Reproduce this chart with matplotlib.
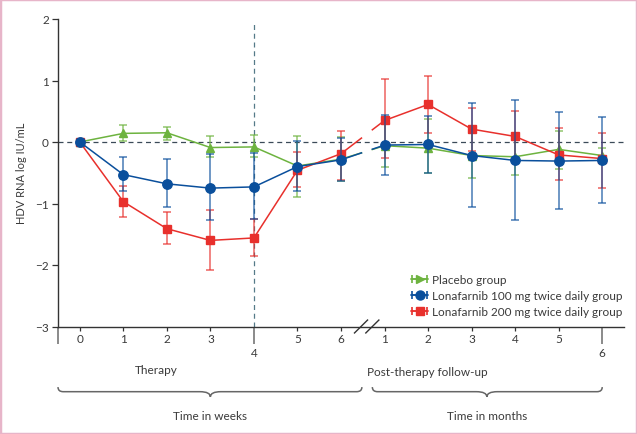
import numpy as np
import matplotlib
matplotlib.use("Agg")
import matplotlib.pyplot as plt
from matplotlib.lines import Line2D
from matplotlib.collections import LineCollection
from matplotlib.container import ErrorbarContainer
from matplotlib.legend_handler import HandlerErrorbar
from matplotlib.path import Path
from matplotlib.patches import PathPatch, Rectangle
import matplotlib.transforms as mtransforms

plt.rcParams["font.family"] = ["Lato", "DejaVu Sans"]

# x axis: weeks 0-6 during therapy, then months 1-6 of follow-up
tick_labels = ["0", "1", "2", "3", "4", "5", "6", "1", "2", "3", "4", "5", "6"]

placebo_mean = [0, 0.14, 0.15, -0.09, -0.08, -0.39, -0.28, -0.06, -0.10, -0.22, -0.24, -0.12, -0.22]
placebo_lo = [0, 0.01, 0.03, -0.25, -0.24, -0.89, -0.63, -0.41, -0.51, -0.59, -0.53, -0.44, -0.34]
placebo_hi = [0, 0.27, 0.24, 0.09, 0.11, 0.09, 0.08, 0.33, 0.37, 0.14, 0.05, 0.18, -0.09]

lona100_mean = [0, -0.53, -0.68, -0.75, -0.73, -0.40, -0.29, -0.05, -0.04, -0.22, -0.30, -0.31, -0.30]
lona100_lo = [0, -0.80, -1.06, -1.27, -1.26, -0.80, -0.64, -0.53, -0.50, -1.05, -1.27, -1.09, -0.99]
lona100_hi = [0, -0.25, -0.28, -0.19, -0.18, 0.01, 0.07, 0.44, 0.42, 0.63, 0.69, 0.49, 0.40]

lona200_mean = [0, -0.97, -1.41, -1.60, -1.56, -0.46, -0.19, 0.35, 0.61, 0.21, 0.09, -0.21, -0.27]
lona200_lo = [0, -1.22, -1.66, -2.08, -1.86, -0.73, -0.61, -0.26, 0.15, -0.15, -0.32, -0.61, -0.74]
lona200_hi = [0, -0.72, -1.14, -1.11, -1.26, -0.16, 0.18, 1.02, 1.07, 0.56, 0.50, 0.22, 0.15]

series_names = ["Placebo group", "Lonafarnib 100 mg twice daily group", "Lonafarnib 200 mg twice daily group"]

GREEN = "#6db33f"
BLUE = "#0a4f9c"
RED = "#e8302c"
TXT = "#3a3a3a"
AX = "#333333"

x = np.arange(len(tick_labels))
gap = (6.47, 6.72)  # break between weeks and months

fig = plt.figure(figsize=(6.37, 4.35), dpi=100)
ax = fig.add_axes([58 / 637, 1 - 327.5 / 435, 566 / 637, 307.5 / 435])


def draw_series(mean, lo, hi, color, marker, ms, z):
    mean = np.array(mean)
    err = np.vstack([mean - np.array(lo), np.array(hi) - mean])
    ax.errorbar(x, mean, yerr=err, fmt="none", ecolor=color, alpha=0.75,
                elinewidth=1.1, capsize=2.6, capthick=1.1, zorder=z)
    g0, g1 = np.interp(gap, x, mean)
    segs = [(np.r_[x[:7], gap[0]], np.r_[mean[:7], g0]),
            (np.r_[gap[1], x[7:]], np.r_[g1, mean[7:]])]
    for sx, sy in segs:
        ax.plot(sx, sy, color=color, lw=1.1, zorder=z + 0.1)
    ax.plot(x, mean, ls="none", marker=marker, ms=ms, color=color,
            mec=color, zorder=z + 0.2)


draw_series(placebo_mean, placebo_lo, placebo_hi, GREEN, "^", 6, 3)
draw_series(lona200_mean, lona200_lo, lona200_hi, RED, "s", 5.5, 4)
draw_series(lona100_mean, lona100_lo, lona100_hi, BLUE, "o", 6.8, 5)

ax.axhline(0, color="#3b4a58", lw=0.9, ls=(0, (4, 3)), zorder=1)
ax.plot([4, 4], [-3, 1.92], color="#557a88", lw=0.9, ls=(0, (4, 3)), zorder=1)

ax.set_xlim(-0.5, 12.5)
ax.set_ylim(-3, 2)
ax.spines["top"].set_visible(False)
ax.spines["right"].set_visible(False)
for s in ("left", "bottom"):
    ax.spines[s].set_color(AX)
    ax.spines[s].set_linewidth(1.0)

ax.set_yticks([-3, -2, -1, 0, 1, 2])
ax.set_yticklabels(["\u22123", "\u22122", "\u22121", "0", "1", "2"])
ax.tick_params(axis="y", length=4, width=0.9, color=AX, labelcolor=TXT,
               labelsize=8.5, pad=2.5)

short = [i for i in x if i not in (4, 12)]
ax.set_xticks(short)
ax.set_xticklabels([tick_labels[i] for i in short])
ax.set_xticks([-0.5, 4, 12], minor=True)
ax.set_xticklabels(["", tick_labels[4], tick_labels[12]], minor=True)
ax.tick_params(axis="x", which="major", length=3, width=0.9, color=AX,
               labelcolor=TXT, labelsize=8.5, pad=2)
ax.tick_params(axis="x", which="minor", length=12, width=1.2, color="#777777",
               labelcolor=TXT, labelsize=8.5, pad=3)

ax.set_ylabel("HDV RNA log IU/mL", color=TXT, fontsize=8, labelpad=6)

# axis break marks
trans = mtransforms.blended_transform_factory(ax.transData, ax.transAxes)
for a, b in [(6.31, 6.61), (6.57, 6.87)]:
    ax.plot([a, b], [-0.021, 0.021], color=AX, lw=1.0, transform=trans,
            clip_on=False, zorder=6)


def brace(x0, x1, xm, y_top=-0.197, y_mid=-0.212, y_tip=-0.229):
    d = 0.12
    verts = [(x0, y_top), (x0, y_mid), (x0 + d, y_mid),
             (xm - 2 * d, y_mid),
             (xm, y_mid), (xm, y_tip),
             (xm, y_mid), (xm + 2 * d, y_mid),
             (x1 - d, y_mid),
             (x1, y_mid), (x1, y_top)]
    codes = [Path.MOVETO, Path.CURVE3, Path.CURVE3, Path.LINETO,
             Path.CURVE3, Path.CURVE3, Path.CURVE3, Path.CURVE3,
             Path.LINETO, Path.CURVE3, Path.CURVE3]
    ax.add_patch(PathPatch(Path(verts, codes), fill=False, ec="#666666",
                           lw=1.1, transform=trans, clip_on=False))


brace(-0.5, 6.48, 3.0)
brace(6.72, 12.0, 9.35)

ax.text(1.75, -0.14, "Therapy", transform=trans, ha="center", va="center",
        fontsize=8.5, color=TXT)
ax.text(7.99, -0.146, "Post-therapy follow-up", transform=trans, ha="center",
        va="center", fontsize=8.5, color=TXT)
ax.text(3.0, -0.29, "Time in weeks", transform=trans, ha="center",
        va="center", fontsize=8.5, color=TXT)
ax.text(9.35, -0.29, "Time in months", transform=trans, ha="center",
        va="center", fontsize=8.5, color=TXT)

# legend handles drawn like horizontal error bars
handles = []
for color, marker, ms in [(GREEN, ">", 5.5), (BLUE, "o", 6.5), (RED, "s", 5.5)]:
    ln = Line2D([], [], color=color, marker=marker, ms=ms, lw=1.1)
    cap = Line2D([], [], color=color, lw=1.1, ms=6, mew=1.2)
    bar = LineCollection([], colors=color, linewidths=1.1)
    handles.append(ErrorbarContainer((ln, [cap, cap], [bar]),
                                     has_xerr=True, has_yerr=False))
ax.legend(handles, series_names, loc="lower left",
          bbox_to_anchor=(0.624, 0.03), frameon=False, fontsize=8.5,
          handlelength=1.45, handletextpad=0.3, labelspacing=0.42,
          borderpad=0, borderaxespad=0, labelcolor=TXT,
          handler_map={ErrorbarContainer: HandlerErrorbar(xerr_size=0.65)})

fig.patches.append(Rectangle((0, 0), 1, 1, transform=fig.transFigure,
                             fill=False, ec="#e7b5c9", lw=2.5))

fig.savefig("out.png", dpi=100)
